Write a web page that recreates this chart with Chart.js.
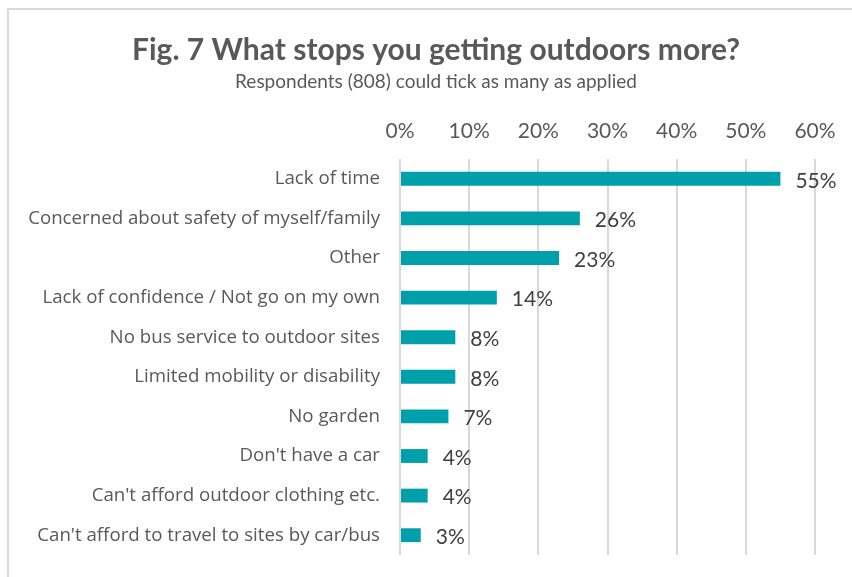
<!DOCTYPE html>
<html>
<head>
    <meta charset="utf-8"/>
    <title>Fig. 7</title>
    <script src="https://cdn.jsdelivr.net/npm/chart.js@4/dist/chart.umd.min.js"></script>
    <style>
        html, body { margin: 0; padding: 0; background: #fff; }
        .frame {
            position: absolute; left: 7px; top: 8px;
            width: 900px; height: 600px;
            border: 2px solid #d9d9d9;
        }
        .chart-container { position: absolute; left: 0; top: 0; width: 852px; height: 577px; }
    </style>
</head>
<body>
    <div class="frame"></div>
    <div class="chart-container">
        <canvas id="myChart" width="852" height="577"></canvas>
    </div>
    <script>
        const titleText = 'Fig. 7 What stops you getting outdoors more?';
        const subtitleText = 'Respondents (808) could tick as many as applied';

        const reasons = [
            'Lack of time',
            'Concerned about safety of myself/family',
            'Other',
            'Lack of confidence / Not go on my own',
            'No bus service to outdoor sites',
            'Limited mobility or disability',
            'No garden',
            "Don't have a car",
            "Can't afford outdoor clothing etc.",
            "Can't afford to travel to sites by car/bus"
        ];
        const percents = [55, 26, 23, 14, 8, 8, 7, 4, 4, 3];
        const tickSteps = [0, 10, 20, 30, 40, 50, 60];

        const labelFont = 'Lato, "DejaVu Sans", sans-serif';

        // title + subtitle above the axis
        const headerPlugin = {
            id: 'header',
            afterDraw(chart) {
                const c = chart.ctx;
                c.save();
                c.fillStyle = '#595959';
                c.textAlign = 'center';
                c.textBaseline = 'middle';
                c.font = 'bold 30px ' + labelFont;
                c.fillText(titleText, 436, 50);
                c.font = '19px ' + labelFont;
                c.fillText(subtitleText, 436, 82);
                c.restore();
            }
        };

        // percentage text just past the end of each bar
        const valueLabels = {
            id: 'valueLabels',
            afterDatasetsDraw(chart) {
                const c = chart.ctx;
                const meta = chart.getDatasetMeta(0);
                c.save();
                c.fillStyle = '#404040';
                c.font = '21px ' + labelFont;
                c.textAlign = 'left';
                c.textBaseline = 'middle';
                meta.data.forEach((bar, i) => {
                    c.fillText(percents[i] + '%', bar.x + 15, bar.y + 2);
                });
                c.restore();
            }
        };

        const ctx = document.getElementById('myChart').getContext('2d');
        const myChart = new Chart(ctx, {
            type: 'bar',
            data: {
                labels: reasons,
                datasets: [{
                    data: percents,
                    backgroundColor: '#00a0aa',
                    barPercentage: 0.7,
                    categoryPercentage: 0.5
                }]
            },
            options: {
                indexAxis: 'y',
                responsive: false,
                animation: false,
                layout: { padding: { top: 110, right: 37, bottom: 22, left: 0 } },
                plugins: {
                    legend: { display: false },
                    tooltip: { enabled: false }
                },
                scales: {
                    x: {
                        position: 'top',
                        min: 0,
                        max: 60,
                        afterBuildTicks: scale => {
                            scale.ticks = tickSteps.map(v => ({ value: v }));
                        },
                        afterFit: scale => { scale.height = 49; },
                        ticks: {
                            color: '#595959',
                            font: { family: labelFont, size: 21 },
                            padding: 15,
                            callback: v => v + '%'
                        },
                        grid: { color: '#d9d9d9', lineWidth: 2, drawTicks: false },
                        border: { display: false }
                    },
                    y: {
                        afterFit: scale => {
                            scale.width = 400;
                            scale.paddingTop = 0;
                            scale.paddingBottom = 0;
                        },
                        ticks: {
                            color: '#595959',
                            font: { family: '"Open Sans", sans-serif', size: 18.7 },
                            padding: 20
                        },
                        grid: { display: false, drawTicks: false },
                        border: { display: false }
                    }
                }
            },
            plugins: [headerPlugin, valueLabels]
        });
    </script>
</body>
</html>
